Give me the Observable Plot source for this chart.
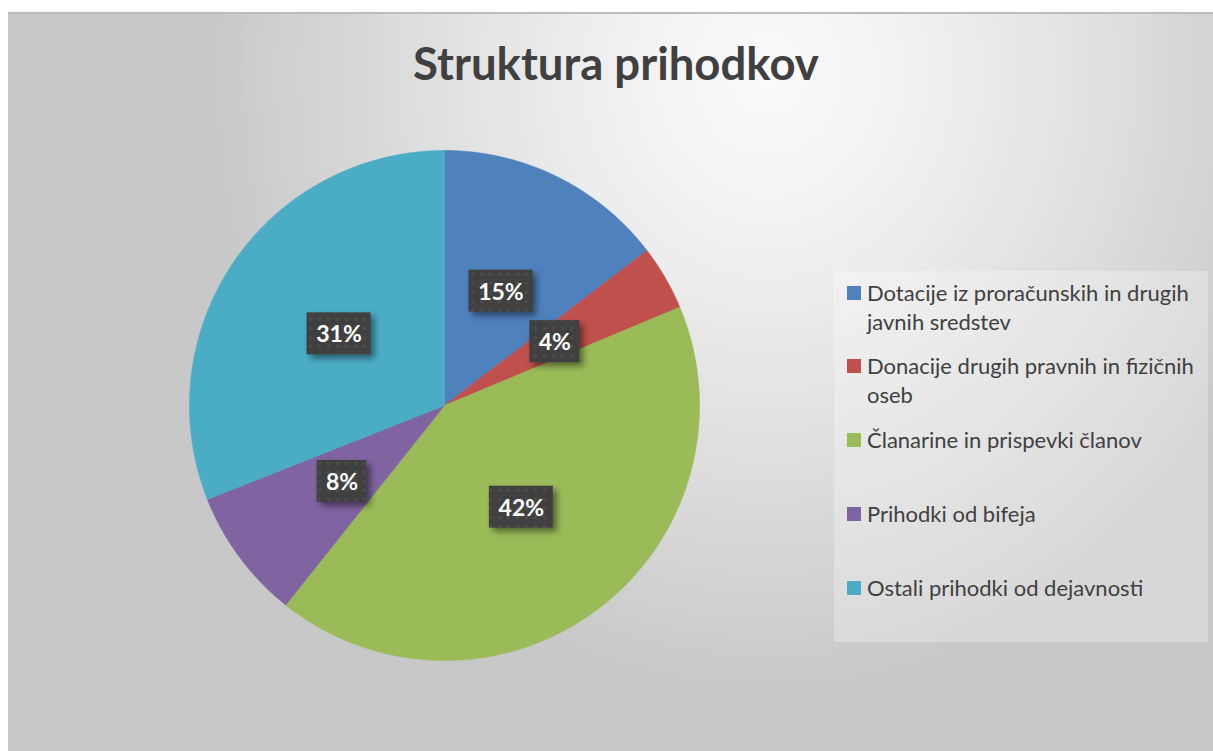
<!DOCTYPE html>
<html><head><meta charset="utf-8">
<script src="https://cdn.jsdelivr.net/npm/d3@7"></script>
<script src="https://cdn.jsdelivr.net/npm/@observablehq/plot@0.6"></script>
<style>
html,body{margin:0;padding:0;background:#fff;}
#wrap{position:relative;width:1213px;height:751px;overflow:hidden;font-family:Lato,"Open Sans",sans-serif;}
#bg{position:absolute;left:8px;top:12px;width:1205px;height:739px;border-top:2px solid #bcbcbc;box-sizing:border-box;
 background:radial-gradient(ellipse 560px 620px at 760px 60px,#fbfbfb 0%,#ededed 35%,#dadada 70%,#c8c8c8 100%);}
#legendbox{position:absolute;left:834px;top:271px;width:374px;height:371px;background:rgba(255,255,255,0.28);}
#title{position:absolute;left:0;top:35px;width:1232px;text-align:center;font-weight:700;font-size:45.5px;color:#404040;white-space:nowrap;}
.item{position:absolute;left:847px;width:360px;font-size:22px;line-height:29px;color:#404040;}
.sw{position:absolute;left:0;top:8px;width:14px;height:14px;}
.tx{position:absolute;left:20px;width:342px;}
#plot{position:absolute;left:0;top:0;}
</style></head>
<body><div id="wrap"><div id="bg"></div><div id="legendbox"></div><div id="title">Struktura prihodkov</div><div id="legend"></div><div id="plot"></div></div>
<script>
const title = "Struktura prihodkov";
const categories = [
  "Dotacije iz proračunskih in drugih javnih sredstev",
  "Donacije drugih pravnih in fizičnih oseb",
  "Članarine in prispevki članov",
  "Prihodki od bifeja",
  "Ostali prihodki od dejavnosti"
];
const values = [14.6, 4.1, 42.0, 8.3, 31.0];
const colors = ["#4f81bd", "#c0504d", "#9bbb59", "#8064a2", "#4bacc6"];
const labels = ["15%", "4%", "42%", "8%", "31%"];

const total = d3.sum(values);
let cum = 0;
const slicePts = [];
const labelRows = [];
const R = 255; // px per data unit (radius)
values.forEach((v, i) => {
  const a0 = cum / total * 2 * Math.PI;
  cum += v;
  const a1 = cum / total * 2 * Math.PI;
  const cat = categories[i];
  slicePts.push({cat, x: 0, y: 0});
  const n = Math.max(2, Math.ceil((a1 - a0) / (Math.PI / 360)));
  for (let k = 0; k <= n; k++) {
    const a = a0 + (a1 - a0) * k / n;
    slicePts.push({cat, x: Math.sin(a), y: Math.cos(a)});
  }
  slicePts.push({cat, x: 0, y: 0});
  const am = (a0 + a1) / 2;
  const cx = 0.5 * Math.sin(am), cy = 0.5 * Math.cos(am);
  const hw = (labels[i].length === 3 ? 32 : 25) / R, hh = 21 / R;
  labelRows.push({cat, label: labels[i], x: cx, y: cy, x1: cx - hw, x2: cx + hw, y1: cy - hh, y2: cy + hh});
});

const chart = Plot.plot({
  width: 1213, height: 751,
  marginLeft: 189, marginRight: 514, marginTop: 150, marginBottom: 91,
  x: {domain: [-1, 1], axis: null},
  y: {domain: [-1, 1], axis: null},
  color: {domain: categories, range: colors},
  style: {background: "transparent", overflow: "visible"},
  marks: [
    Plot.line(slicePts, {x: "x", y: "y", z: "cat", fill: "cat", stroke: "cat", strokeWidth: 0.6, curve: "linear"}),
    Plot.rect(labelRows, {x1: "x1", x2: "x2", y1: "y1", y2: "y2", fill: "#404040"}),
    Plot.rect(labelRows, {x1: "x1", x2: "x2", y1: "y1", y2: "y2", fill: "url(#dots)"}),
    Plot.text(labelRows, {x: "x", y: "y", text: "label", fill: "white", fontSize: 23, fontWeight: "bold", fontFamily: "Lato, sans-serif", dy: 1})
  ]
});
d3.select(chart).insert("defs", ":first-child").html(
  '<pattern id="dots" width="9" height="9" patternUnits="userSpaceOnUse"><circle cx="4.5" cy="4.5" r="1.8" fill="rgba(255,255,255,0.06)"/></pattern>');
const rg = chart.querySelectorAll('g[aria-label="rect"]')[0];
if (rg) rg.style.filter = "drop-shadow(4px 4px 3px rgba(0,0,0,0.45))";
document.getElementById("plot").appendChild(chart);

const baselines = [301, 374, 448, 522, 596];
const legend = document.getElementById("legend");
categories.forEach((c, i) => {
  const it = document.createElement("div");
  it.className = "item";
  it.style.top = (baselines[i] - 23) + "px";
  const sw = document.createElement("div");
  sw.className = "sw"; sw.style.background = colors[i];
  const tx = document.createElement("div");
  tx.className = "tx"; tx.textContent = c;
  it.appendChild(sw); it.appendChild(tx);
  legend.appendChild(it);
});
</script></body></html>
